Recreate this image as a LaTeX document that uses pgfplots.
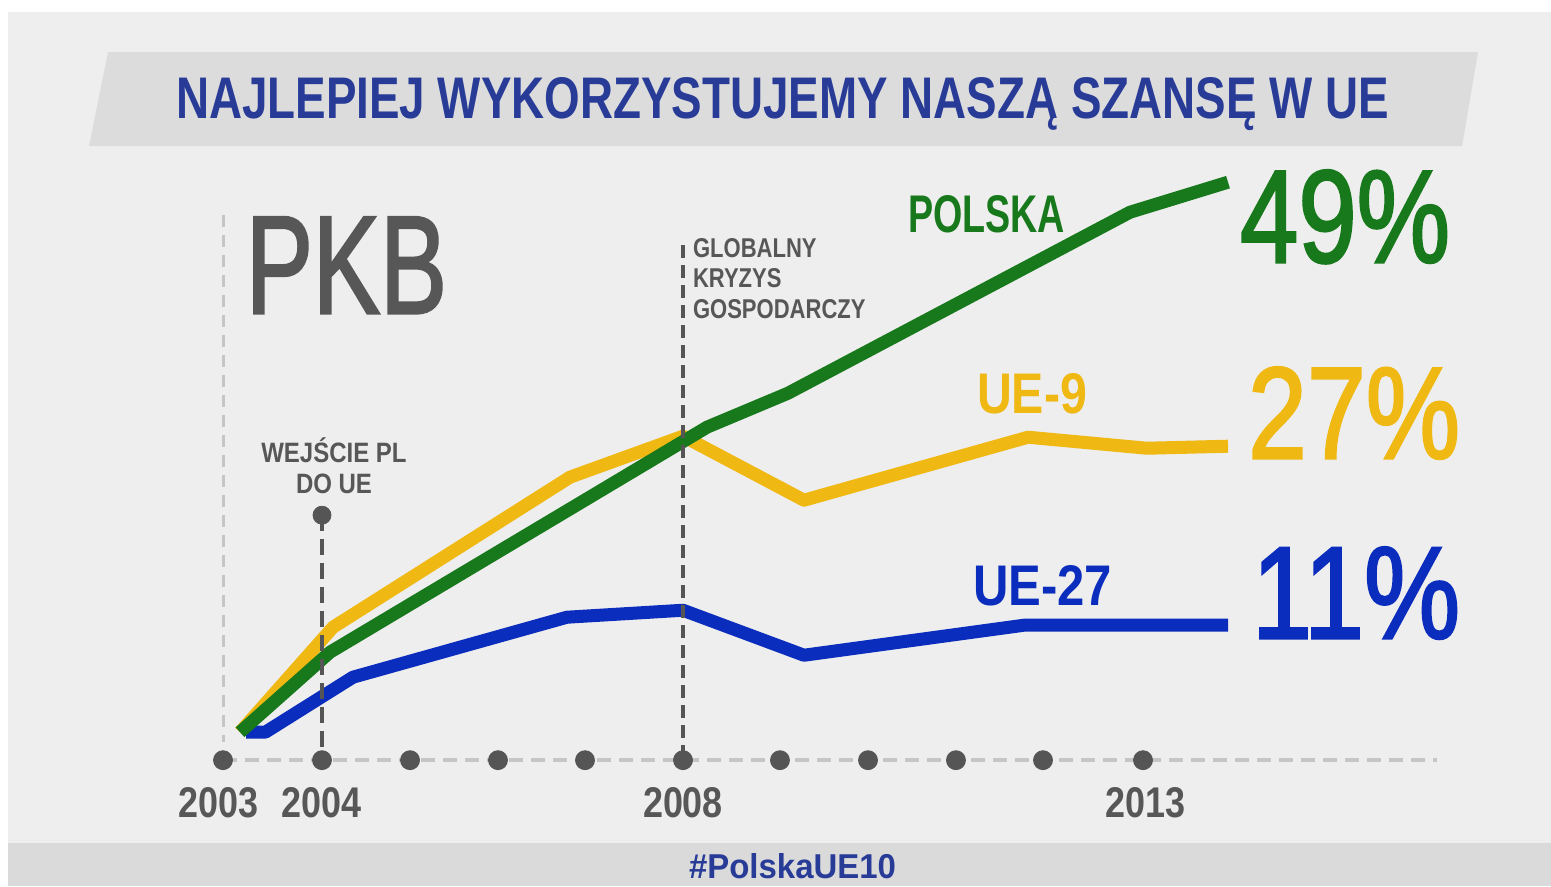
\documentclass[border=0pt]{standalone}
\usepackage{fontspec}
\setmainfont{Liberation Sans}
\newfontfamily\medfont[FakeBold=2]{Liberation Sans}
\usepackage{graphicx}
\usepackage{pgfplots}
\pgfplotsset{compat=1.18}

\definecolor{bg}{HTML}{EEEEEE}
\definecolor{banner}{HTML}{DCDCDC}
\definecolor{band}{HTML}{DADADA}
\definecolor{titleblue}{HTML}{273B97}
\definecolor{pgreen}{HTML}{17791C}
\definecolor{pyellow}{HTML}{F0B812}
\definecolor{pblue}{HTML}{0A2DBE}
\definecolor{txtgray}{HTML}{575757}
\definecolor{dotgray}{HTML}{555555}
\definecolor{lightdash}{HTML}{C6C6C6}

\newcommand{\yl}[1]{\resizebox{40pt}{15pt}{\bfseries #1}}

\begin{document}
\begin{tikzpicture}
% background (pixel coordinates of the 1551x886 reference)
\begin{scope}[x=0.5pt,y=-0.5pt,shift={(0,443pt)}]
  \fill[white] (0,0) rectangle (1551,886);
  \fill[bg] (8,12) rectangle (1551,886);
  \fill[banner] (108,52) -- (1478,52) -- (1462,146) -- (89,146) -- cycle;
  \fill[band] (8,843) rectangle (1551,886);
\end{scope}

\begin{axis}[
  at={(0pt,0pt)}, anchor=south west,
  scale only axis, width=775.5pt, height=443pt,
  xmin=2000.5761, xmax=2017.4348, ymin=-13.6889, ymax=65.0667,
  clip=false,
  axis line style={draw=none},
  ytick=\empty,
  xtick={2002.95,2004.076,2008,2013.03},
  xticklabels={\yl{2003},\yl{2004},\yl{2008},\yl{2013}},
  major tick length=0pt,
  xticklabel style={anchor=base, yshift=34.5pt, inner sep=0pt, text=txtgray},
]
% x axis baseline (dashed)
\addplot[lightdash, line width=2pt, dash pattern=on 7pt off 4pt]
  coordinates {(2003,-2.489) (2016.196,-2.489)};
% 2003 light vertical guide
\addplot[lightdash, line width=1.5pt, dash pattern=on 6pt off 4pt]
  coordinates {(2003,45.96) (2003,-0.9)};

% UE-27
\addplot[pblue, line width=6.5pt, line join=round] coordinates {
  (2003.25,0) (2003.46,0) (2004.413,4.89) (2006.739,10.22) (2008.0,10.84)
  (2009.315,6.84) (2011.707,9.51) (2013.924,9.51)};
% UE-9
\addplot[pyellow, line width=6.5pt, line join=round] coordinates {
  (2003.185,0) (2004.196,9.33) (2006.772,22.67) (2008.0,26.31)
  (2009.315,20.62) (2011.75,26.22) (2013.043,25.24) (2013.924,25.42)};
% POLSKA
\addplot[pgreen, line width=6.5pt, line join=round] coordinates {
  (2003.185,0) (2004.163,7.11) (2008.261,27.11) (2009.141,30.13)
  (2012.859,46.22) (2013.924,48.89)};

% 2004 and 2008 markers
\addplot[dotgray, line width=2.2pt, dash pattern=on 8pt off 4pt]
  coordinates {(2004.076,19.29) (2004.076,-2.489)};
\addplot[dotgray, only marks, mark=*, mark size=4.5pt, mark options={draw=none, fill=dotgray}]
  coordinates {(2004.076,19.29)};
\addplot[dotgray, line width=1.7pt, dash pattern=on 6.5pt off 3.5pt]
  coordinates {(2008,43.29) (2008,-2.489)};

% year dots on the axis
\addplot[dotgray, only marks, mark=*, mark size=4.75pt, mark options={draw=none, fill=dotgray}]
  coordinates {(2003,-2.489) (2004.076,-2.489) (2005.033,-2.489) (2005.989,-2.489)
   (2006.935,-2.489) (2008,-2.489) (2009.054,-2.489) (2010.011,-2.489) (2010.967,-2.489)
   (2011.913,-2.489) (2013,-2.489)};
\end{axis}

% texts (pixel coordinates)
\begin{scope}[x=0.5pt,y=-0.5pt,shift={(0,443pt)},
  every node/.style={inner sep=0pt, outer sep=0pt}]
  \node[anchor=base west, text=titleblue] at (176,118)
    {\resizebox{606.5pt}{20.5pt}{\bfseries NAJLEPIEJ WYKORZYSTUJEMY NASZĄ SZANSĘ W UE}};
  \node[anchor=base west, text=txtgray] at (246,313)
    {\resizebox{100.5pt}{48pt}{\medfont PKB}};
  \node[anchor=base, text=txtgray] at (334,462)
    {\scalebox{0.857}[1]{\fontsize{14}{16}\selectfont\bfseries WEJŚCIE PL}};
  \node[anchor=base, text=txtgray] at (334,493)
    {\scalebox{0.857}[1]{\fontsize{14}{16}\selectfont\bfseries DO UE}};
  \node[anchor=base west, text=txtgray] at (693,257)
    {\scalebox{0.81}[1]{\fontsize{13.6}{16}\selectfont\bfseries GLOBALNY}};
  \node[anchor=base west, text=txtgray] at (693,287)
    {\scalebox{0.81}[1]{\fontsize{13.6}{16}\selectfont\bfseries KRYZYS}};
  \node[anchor=base west, text=txtgray] at (693,318)
    {\scalebox{0.81}[1]{\fontsize{13.6}{16}\selectfont\bfseries GOSPODARCZY}};
  \node[anchor=base west, text=pgreen] at (908,232)
    {\resizebox{78.5pt}{18.5pt}{\bfseries POLSKA}};
  \node[anchor=base west, text=pyellow] at (977,413)
    {\resizebox{55pt}{20pt}{\bfseries UE-9}};
  \node[anchor=base west, text=pblue] at (973,605)
    {\resizebox{69.5pt}{20pt}{\bfseries UE-27}};
  \node[anchor=base west, text=pgreen] at (1240,262)
    {\resizebox{105pt}{46pt}{\medfont 49\%}};
  \node[anchor=base west, text=pyellow] at (1248,458)
    {\resizebox{106pt}{45.5pt}{\medfont 27\%}};
  \node[anchor=base west, text=pblue] at (1252,638)
    {\resizebox{104pt}{45.5pt}{\medfont 11\%}};
  \node[anchor=base west, text=titleblue] at (689,878)
    {\resizebox{103.5pt}{12.5pt}{\bfseries \#PolskaUE10}};
\end{scope}
\end{tikzpicture}
\end{document}
